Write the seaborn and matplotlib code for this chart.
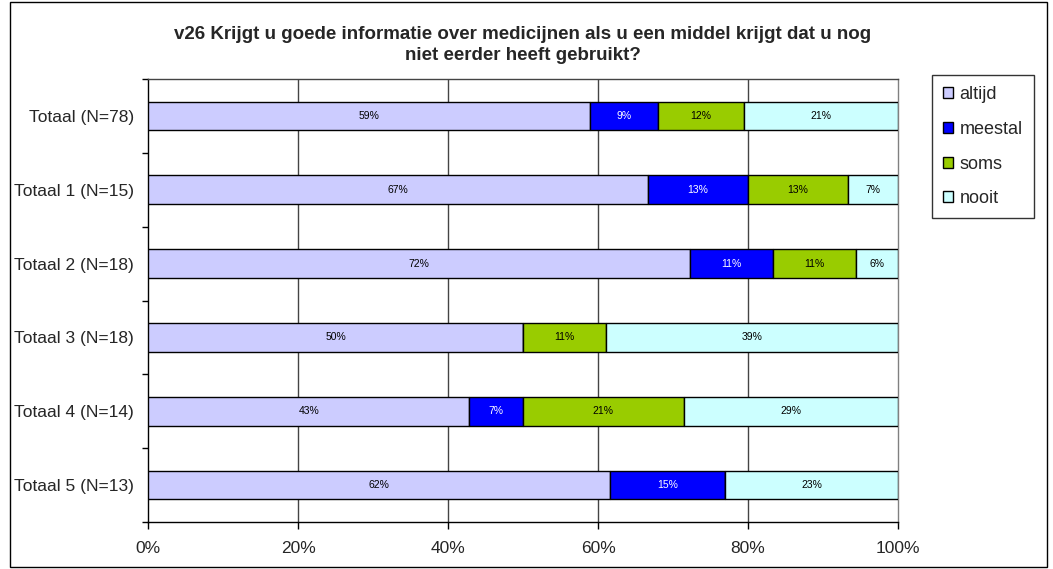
import numpy as np
import pandas as pd
import seaborn as sns
import matplotlib
matplotlib.use("Agg")
import matplotlib.pyplot as plt
from matplotlib.patches import Rectangle, Patch
from matplotlib.ticker import FixedLocator

groups = ["Totaal (N=78)", "Totaal 1 (N=15)", "Totaal 2 (N=18)",
          "Totaal 3 (N=18)", "Totaal 4 (N=14)", "Totaal 5 (N=13)"]
answers = ["altijd", "meestal", "soms", "nooit"]
altijd = [58.97, 66.67, 72.22, 50.00, 42.86, 61.54]
meestal = [8.97, 13.33, 11.11, 0.00, 7.14, 15.38]
soms = [11.54, 13.33, 11.11, 11.11, 21.43, 0.00]
nooit = [20.51, 6.67, 5.56, 38.89, 28.57, 23.08]
xticks = [0, 20, 40, 60, 80, 100]
xticklabels = ["0%", "20%", "40%", "60%", "80%", "100%"]
title = ("v26 Krijgt u goede informatie over medicijnen als u een middel krijgt dat u nog\n"
         "niet eerder heeft gebruikt?")

colors = {"altijd": "#CCCCFF", "meestal": "#0000FF", "soms": "#99CC00", "nooit": "#CCFFFF"}
text_colors = {"altijd": "black", "meestal": "white", "soms": "black", "nooit": "black"}

sns.set_style("white")
plt.rcParams["font.family"] = ["Liberation Sans", "DejaVu Sans"]

fig = plt.figure(figsize=(10.53, 5.69), dpi=100)
ax = fig.add_axes([148 / 1053, 1 - 522 / 569, 750 / 1053, 443 / 569])

series = {"altijd": altijd, "meestal": meestal, "soms": soms, "nooit": nooit}
left = np.zeros(len(groups))
for ans in answers:
    df = pd.DataFrame({"group": groups, "pct": series[ans]})
    sns.barplot(data=df, x="pct", y="group", color=colors[ans], left=left,
                width=0.39, edgecolor="black", linewidth=1, saturation=1,
                ax=ax, zorder=3)
    vals = np.array(series[ans])
    for i, v in enumerate(vals):
        if v > 0:
            ax.text(left[i] + v / 2, i, "%d%%" % round(v), ha="center", va="center",
                    fontsize=7.5, color=text_colors[ans], zorder=4)
    left = left + vals

ax.set_xlim(0, 100)
ax.set_ylim(len(groups) - 0.5, -0.5)
ax.set_xticks(xticks)
ax.set_xticklabels(xticklabels, fontsize=12.5)
ax.tick_params(axis="x", direction="out", length=5, width=1, color="black", bottom=True, pad=9)
ax.tick_params(axis="y", which="major", length=0, labelsize=12.5, pad=10)
ax.yaxis.set_minor_locator(FixedLocator(np.arange(-0.5, len(groups), 1.0)))
ax.tick_params(axis="y", which="minor", direction="out", length=4, width=1, color="black", left=True)
ax.set_xlabel("")
ax.set_ylabel("")
for x in xticks[1:-1]:
    ax.axvline(x, color="#444444", linewidth=1, zorder=1)
for s in ax.spines.values():
    s.set_visible(True)
    s.set_color("black")
    s.set_linewidth(1)
ax.spines["right"].set_color("#808080")
ax.spines["top"].set_color("#444444")

ax.set_title(title, fontsize=13.5, fontweight="bold", pad=14, linespacing=1.3)

handles = [Patch(facecolor=colors[a], edgecolor="black", linewidth=1) for a in answers]
fig.legend(handles, answers, loc="upper left", bbox_to_anchor=(932 / 1053, 1 - 75 / 569),
           fontsize=13, frameon=True, fancybox=False, edgecolor="black",
           handlelength=0.55, handleheight=0.55, handletextpad=0.35,
           labelspacing=0.98, borderpad=0.62, borderaxespad=0)

fig.patches.append(Rectangle((10 / 1053, 2 / 569), 1037 / 1053, 565 / 569,
                             transform=fig.transFigure, fill=False,
                             edgecolor="black", linewidth=1))

fig.savefig("out.png", dpi=100)
